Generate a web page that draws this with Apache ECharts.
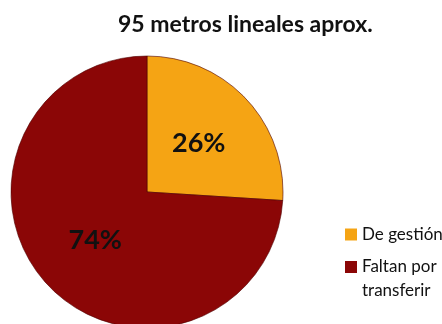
<!DOCTYPE html>
<html><head><meta charset="utf-8">
<script src="https://cdn.jsdelivr.net/npm/echarts@6/dist/echarts.min.js"></script>
<style>html,body{margin:0;padding:0;background:#fff}#c{width:442px;height:324px}</style>
</head><body><div id="c"></div>
<script>
const titleText = '95 metros lineales aprox.';
const categories = ['De gestión', 'Faltan por transferir'];
const values = [26, 74];
const colors = ['#F5A414', '#8B0606'];

const chart = echarts.init(document.getElementById('c'), null, {renderer: 'canvas'});
chart.setOption({
  animation: false,
  title: {
    text: titleText, left: 113, top: 8,
    textStyle: {fontFamily: 'Lato', fontWeight: 'bold', fontSize: 23, color: '#111'}
  },
  legend: [
    {data: [categories[0]], left: 340, top: 221, orient: 'vertical', itemWidth: 12, itemHeight: 12, itemGap: 0,
     icon: 'rect', itemStyle: {borderWidth: 0},
     textStyle: {fontFamily: 'Lato', fontSize: 17, color: '#111'}},
    {data: [categories[1]], left: 340, top: 226, orient: 'vertical', itemWidth: 12, itemHeight: 12, itemGap: 0,
     icon: 'rect', itemStyle: {borderWidth: 0}, formatter: () => ' \nFaltan por\ntransferir',
     textStyle: {fontFamily: 'Lato', fontSize: 17, color: '#111', lineHeight: 24}}
  ],
  series: [{
    type: 'pie', center: [147, 192], radius: 136, startAngle: 90, clockwise: true,
    data: categories.map((n, i) => ({name: n, value: values[i], itemStyle: {color: colors[i]}})),
    itemStyle: {borderColor: 'rgba(80,0,0,0.6)', borderWidth: 1},
    label: {position: 'inside', formatter: '{c}%', fontFamily: 'Lato', fontWeight: 'bold', fontSize: 27, color: '#111'},
    labelLine: {show: false}
  }]
});
</script></body></html>
